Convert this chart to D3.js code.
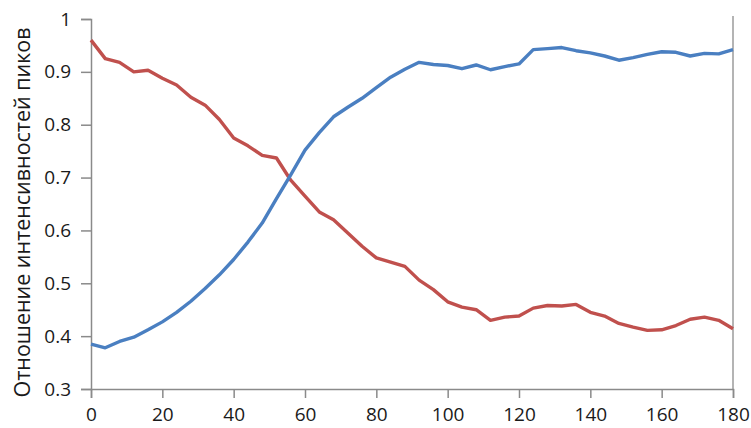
<!DOCTYPE html>
<html lang="ru">
<head>
<meta charset="utf-8">
<script src="https://d3js.org/d3.v7.min.js"></script>
<style>
  body { margin: 0; background: #fff; }
  text { font-family: "Open Sans", "DejaVu Sans", sans-serif; }
</style>
</head>
<body>
<script>
  // data (step of 4 on the x axis)
  const xs = d3.range(0, 181, 4);
  const blueVals = [0.385, 0.378, 0.39, 0.398, 0.412, 0.427, 0.445, 0.466, 0.49, 0.516,
    0.545, 0.578, 0.614, 0.66, 0.705, 0.752, 0.785, 0.815, 0.833, 0.85,
    0.87, 0.89, 0.905, 0.918, 0.914, 0.912, 0.906, 0.913, 0.904, 0.91,
    0.915, 0.942, 0.944, 0.946, 0.94, 0.936, 0.93, 0.922, 0.927, 0.933,
    0.938, 0.937, 0.93, 0.935, 0.934, 0.942];
  const redVals = [0.96, 0.925, 0.918, 0.9, 0.903, 0.888, 0.875, 0.852, 0.837, 0.81,
    0.775, 0.76, 0.742, 0.737, 0.695, 0.665, 0.635, 0.62, 0.595, 0.57,
    0.548, 0.54, 0.532, 0.506, 0.488, 0.465, 0.455, 0.45, 0.43, 0.436,
    0.438, 0.453, 0.458, 0.457, 0.46, 0.445, 0.438, 0.424, 0.417, 0.411,
    0.412, 0.42, 0.432, 0.436, 0.43, 0.414];
  const xTicks = d3.range(0, 181, 20);
  const yTicks = [0.3, 0.4, 0.5, 0.6, 0.7, 0.8, 0.9, 1];
  const yLabel = "Отношение интенсивностей пиков";

  const W = 751, H = 428;
  const svg = d3.select("body").append("svg").attr("width", W).attr("height", H);

  const x = d3.scaleLinear().domain([0, 180]).range([91, 733]);
  const y = d3.scaleLinear().domain([0.3, 1]).range([389, 19]);

  // right border line
  svg.append("line")
    .attr("x1", x(180)).attr("x2", x(180))
    .attr("y1", y(1) - 3).attr("y2", y(0.3))
    .attr("stroke", "#b4b4b4").attr("stroke-width", 2);

  // axes
  const axColor = "#8a8a8a";
  const gx = svg.append("g").attr("transform", `translate(0,${y(0.3)})`)
    .call(d3.axisBottom(x).tickValues(xTicks).tickSize(9).tickPadding(10).tickFormat(d3.format("d")));
  const gy = svg.append("g").attr("transform", `translate(${x(0)},0)`)
    .call(d3.axisLeft(y).tickValues(yTicks).tickSize(10).tickPadding(10).tickFormat(d => d === 1 ? "1" : d3.format(".1f")(d)));
  [gx, gy].forEach(g => {
    g.select(".domain").attr("stroke", axColor).attr("stroke-width", 1.5);
    g.selectAll(".tick line").attr("stroke", axColor).attr("stroke-width", 1.5);
    g.selectAll(".tick text").attr("fill", "#1a1a1a").style("font-size", "19px");
  });

  // y label
  svg.append("text")
    .attr("transform", `translate(30,${(27 + 398) / 2}) rotate(-90)`)
    .attr("text-anchor", "middle")
    .attr("fill", "#1a1a1a")
    .attr("textLength", 370)
    .attr("lengthAdjust", "spacingAndGlyphs")
    .style("font-size", "21px")
    .text(yLabel);

  // lines
  const line = d3.line().x((d, i) => x(xs[i])).y(d => y(d));
  svg.append("path").datum(redVals)
    .attr("fill", "none").attr("stroke", "#c0504d").attr("stroke-width", 3.4)
    .attr("stroke-linejoin", "round").attr("d", line);
  svg.append("path").datum(blueVals)
    .attr("fill", "none").attr("stroke", "#4a7fc1").attr("stroke-width", 3.4)
    .attr("stroke-linejoin", "round").attr("d", line);
</script>
</body>
</html>
